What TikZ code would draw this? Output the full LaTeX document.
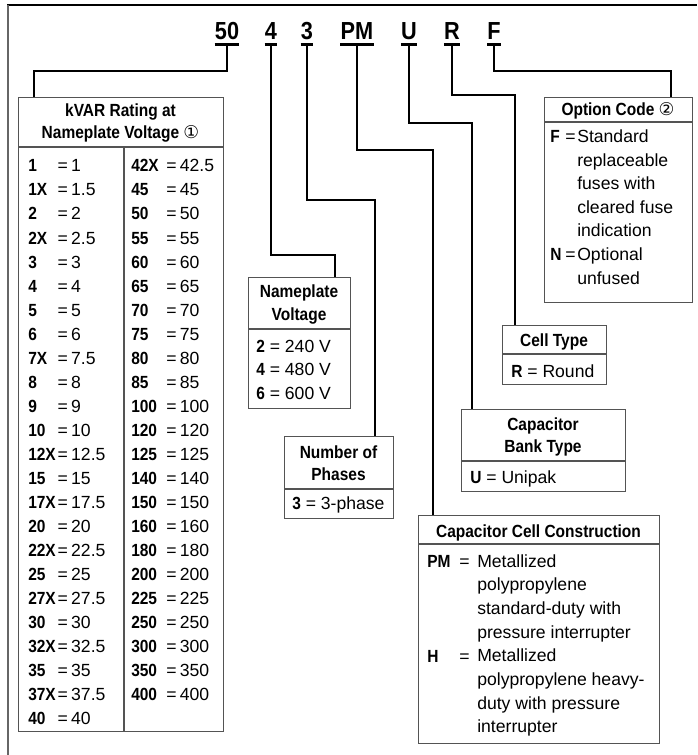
\documentclass[tikz,border=0pt]{standalone}
\usepackage{fontspec}
\setmainfont{Liberation Sans}[BoldFeatures={FakeStretch=0.88}]
\newfontfamily\symfont{DejaVu Sans}
\usetikzlibrary{calc}
\definecolor{boxgray}{rgb}{0.33,0.33,0.33}
\definecolor{framegray}{rgb}{0.4,0.4,0.4}
% key, then = at a fixed tab unless the key is wider
\newcommand{\kv}[3]{\sbox0{\bfseries #2}\ifdim\wd0<#1\relax\makebox[#1][l]{\usebox0}\else\usebox0\hspace{1.5pt}\fi=\hspace{2.5pt}#3}

\begin{document}
\fontsize{13.2pt}{17pt}\selectfont
\begin{tikzpicture}[x=0.75pt, y=-0.75pt,
    wire/.style={line width=0.8pt},
    rule/.style={draw=boxgray, line width=0.9pt},
    bx/.style 2 args={rule, inner sep=0pt, anchor=north west,
      minimum width=#1*0.75pt, minimum height=#2*0.75pt},
    code/.style={font=\fontsize{18.5pt}{20pt}\selectfont\bfseries, anchor=base, inner sep=0pt},
    head/.style={font=\bfseries, anchor=base, inner sep=0pt},
    txt/.style={anchor=base west, inner sep=0pt},
    key/.style={txt, font=\bfseries}]
    \useasboundingbox (0,0) rectangle (697,755);
    % Frame
    \draw[line width=1.1pt] (7,5) -- (697,5);
    \draw[framegray, line width=1.8pt] (8,5) -- (8,755);
    % Catalog number
    \foreach \t/\x/\n in {50/227/c50, 4/271/c4, 3/307/c3, PM/357/cPM, U/409/cU, R/452/cR, F/494/cF}{
      \node[code] (\n) at (\x,40) {\t};
      \draw[line width=2.2pt] ([yshift=-3pt]\n.south west) -- ([yshift=-3pt]\n.south east);
    }
    % Boxes
    \node[bx={205}{634}] (kvar) at (18,97) {};
    \node[bx={148}{205}] (opt) at (544,97) {};
    \node[bx={102}{131}] (volt) at (248,277) {};
    \node[bx={109}{82}] (phase) at (284,436) {};
    \node[bx={104}{59}] (cell) at (502,325) {};
    \node[bx={164}{82}] (bank) at (461,409) {};
    \node[bx={241}{228}] (cons) at (418,515) {};
    \draw[rule] ($(kvar.north west)+(0,50)$) -- ($(kvar.north east)+(0,50)$);
    \draw[rule] ($(kvar.north west)+(106,50)$) -- ($(kvar.south west)+(106,0)$);
    \draw[rule] ($(opt.north west)+(0,25)$) -- ($(opt.north east)+(0,25)$);
    \draw[rule] ($(volt.north west)+(0,52)$) -- ($(volt.north east)+(0,52)$);
    \draw[rule] ($(phase.north west)+(0,53)$) -- ($(phase.north east)+(0,53)$);
    \draw[rule] ($(cell.north west)+(0,29)$) -- ($(cell.north east)+(0,29)$);
    \draw[rule] ($(bank.north west)+(0,52)$) -- ($(bank.north east)+(0,52)$);
    \draw[rule] ($(cons.north west)+(0,29)$) -- ($(cons.north east)+(0,29)$);
    % Leaders from the code to the boxes
    \draw[wire] ([yshift=-3pt]c50.south) |- ($(kvar.north west)+(16,-26)$) -- ($(kvar.north west)+(16,0)$);
    \draw[wire] ([yshift=-3pt]c4.south) |- ($(volt.north west)+(87,-22)$) -- ($(volt.north west)+(87,0)$);
    \draw[wire] ([yshift=-3pt]c3.south) |- ($(phase.north west)+(91,-236)$) -- ($(phase.north west)+(91,0)$);
    \draw[wire] ([yshift=-3pt]cPM.south) |- ($(cons.north west)+(15,-365)$) -- ($(cons.north west)+(15,0)$);
    \draw[wire] ([yshift=-3pt]cU.south) |- ($(bank.north west)+(11,-286)$) -- ($(bank.north west)+(11,0)$);
    \draw[wire] ([yshift=-3pt]cR.south) |- ($(cell.north west)+(13,-230)$) -- ($(cell.north west)+(13,0)$);
    \draw[wire] ([yshift=-3pt]cF.south) |- ($(opt.north west)+(127,-26)$) -- ($(opt.north west)+(127,0)$);
    % kVAR rating
    \node[head] (kvarh1) at (120.5,117) {kVAR Rating at};
    \node[head] (kvarh2) at (120.5,139) {Nameplate Voltage {\symfont\mdseries ①}};
    \foreach \k/\v [count=\i from 0] in {1/1,1X/1.5,2/2,2X/2.5,3/3,4/4,5/5,6/6,7X/7.5,8/8,9/9,10/10,12X/12.5,15/15,17X/17.5,20/20,22X/22.5,25/25,27X/27.5,30/30,32X/32.5,35/35,37X/37.5,40/40}
      \node[txt] (kl\i) at (28,{172+24*\i}) {\kv{22pt}{\k}{\v}};
    \foreach \k/\v [count=\i from 0] in {42X/42.5,45/45,50/50,55/55,60/60,65/65,70/70,75/75,80/80,85/85,100/100,120/120,125/125,140/140,150/150,160/160,180/180,200/200,225/225,250/250,300/300,350/350,400/400}
      \node[txt] (kr\i) at (131,{172+24*\i}) {\kv{26.25pt}{\k}{\v}};
    % Option code
    \node[head] (opth) at (618,116) {Option Code {\symfont\mdseries ②}};
    \node[key] (fkey) at (550,143) {F};
    \node[txt] (feq) at (565,143) {=};
    \foreach \l [count=\i from 0] in {Standard, replaceable, fuses with, cleared fuse, indication}
      \node[txt] (fl\i) at (577,{143+23.5*\i}) {\l};
    \node[key] (nkey) at (550,260.5) {N};
    \node[txt] (neq) at (565,260.5) {=};
    \node[txt] (nl0) at (577,260.5) {Optional};
    \node[txt] (nl1) at (577,284) {unfused};
    % Nameplate voltage
    \node[head] (volth1) at (299,297) {Nameplate};
    \node[head] (volth2) at (299,320) {Voltage};
    \node[txt] (v2) at (256,352) {\textbf{2} = 240 V};
    \node[txt] (v4) at (256,375.5) {\textbf{4} = 480 V};
    \node[txt] (v6) at (256,399) {\textbf{6} = 600 V};
    % Number of phases
    \node[head] (phaseh1) at (338.5,458) {Number of};
    \node[head] (phaseh2) at (338.5,480) {Phases};
    \node[txt] (p3) at (292,509) {\textbf{3} = 3-phase};
    % Cell type
    \node[head] (cellh) at (554,346) {Cell Type};
    \node[txt] (cr) at (511,377) {\textbf{R} = Round};
    % Bank type
    \node[head] (bankh1) at (543,430) {Capacitor};
    \node[head] (bankh2) at (543,452) {Bank Type};
    \node[txt] (bu) at (470,483) {\textbf{U} = Unipak};
    % Cell construction
    \node[head] (consh) at (538.5,537) {Capacitor Cell Construction};
    \node[key] (pmkey) at (427,567) {PM};
    \node[txt] (pmeq) at (459,567) {=};
    \node[key] (hkey) at (427,662) {H};
    \node[txt] (heq) at (459,662) {=};
    \foreach \l [count=\i from 0] in {Metallized, polypropylene, standard-duty with, pressure interrupter, Metallized, polypropylene heavy-, duty with pressure, interrupter}
      \node[txt] (cl\i) at (477,{567+23.7*\i}) {\l};
\end{tikzpicture}
\end{document}
